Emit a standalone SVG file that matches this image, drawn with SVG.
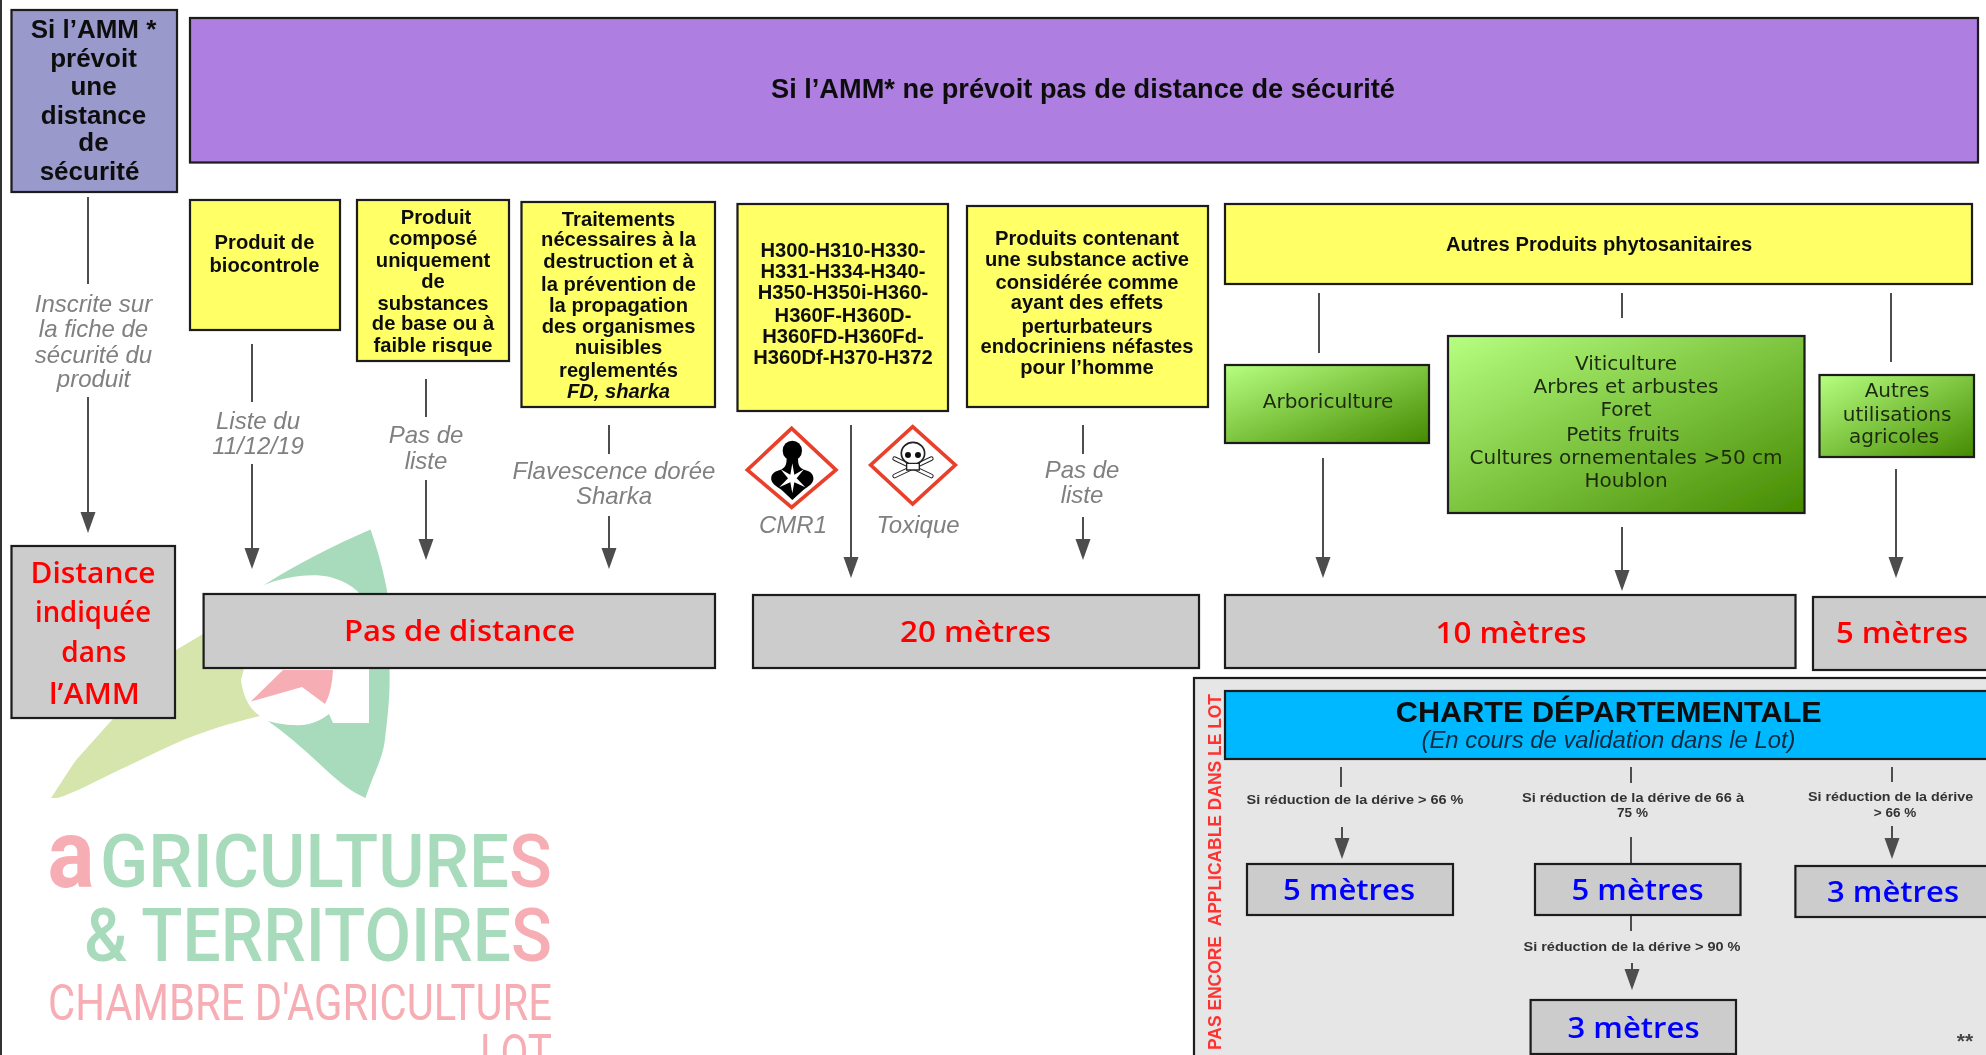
<svg xmlns="http://www.w3.org/2000/svg" width="1986" height="1055" viewBox="0 0 1986 1055">
<style>
text{font-family:"Liberation Sans",Arial,sans-serif;text-anchor:middle}
.box{stroke:#1a1a1a;stroke-width:2.2}
.y{fill:#ffff66}.g{fill:#cccccc}.gr{fill:url(#grad)}
.b{font-weight:700;font-size:20.2px;fill:#111}
.b2{font-weight:700;font-size:26px;fill:#111}
.i{font-style:italic;font-size:24px;fill:#808080}
.gt{font-family:"DejaVu Sans",sans-serif;font-size:20px;fill:#1c2a10}
.r{font-family:"Open Sans",sans-serif;font-weight:600;font-size:28px;fill:#ff0000}
.bl{font-family:"Open Sans",sans-serif;font-weight:600;font-size:28px;fill:#0000ff}
.s{font-size:13.5px;font-weight:700;fill:#333}
.c{fill:none;stroke:#4d4d4d;stroke-width:2}
.lg{fill:#a8dbbb;font-family:Roboto,sans-serif;font-weight:500}
.lp{fill:#f6adb4;font-family:Roboto,sans-serif}
.pk{fill:#f6adb4}
</style>
<defs>
<linearGradient id="grad" x1="0" y1="0" x2="1" y2="1"><stop offset="0" stop-color="#b6ff80"/><stop offset="1" stop-color="#458a00"/></linearGradient>
<marker id="a" markerUnits="userSpaceOnUse" viewBox="0 0 21 16" refX="13" refY="8" markerWidth="21" markerHeight="16" orient="auto"><path d="M0,0.500L21,8L0,15.500z" fill="#4d4d4d"/></marker>
<filter id="soft" x="0" y="0" width="100%" height="100%"><feGaussianBlur stdDeviation="0.55"/></filter>
</defs>
<rect width="1986" height="1055" fill="#fff"/>
<g filter="url(#soft)">
<rect x="0" y="0" width="2" height="1055" fill="#333"/>
<g id="logo">
<path fill="#d5e5ac" d="M51,798C60,785 70,768 77,759L111,721L176,650L203,634L262,600L241,680C243,695 248,708 260,716C235,722 205,730 172,745C150,755 130,765 115,772C90,784 70,795 57,798Z"/>
<path fill="#a8dbbb" d="M370.500,529.600C335,545 295,565 264,585C280,578 310,572 330,577C345,581 355,588 360,594L369,670L369,723L333,723L329,714C318,723 305,726 295,725C285,725 275,723 268,721C285,733 305,750 325,769C340,783 352,792 365.500,798C375,770 382,760 384.600,742C388,715 390,695 389.600,673.600C390,640 390,610 386.600,588C382,565 376,545 370.500,529.600Z"/>
<path fill="#f6adb4" d="M250.700,701.600L283,670L333,670C332,685 330,695 325,704L302,687Z"/>
<text class="lp" x="71" y="887" font-size="96" font-weight="700" textLength="47" lengthAdjust="spacingAndGlyphs">a</text>
<text class="lg" x="326" y="887" font-size="74" textLength="452" lengthAdjust="spacingAndGlyphs">GRICULTURE<tspan class="pk">S</tspan></text>
<text class="lg" x="318" y="961" font-size="74" textLength="468" lengthAdjust="spacingAndGlyphs">&amp;&#8201;TERRITOIRE<tspan class="pk">S</tspan></text>
<text class="lp" x="300" y="1020" font-size="50" font-weight="400" textLength="504" lengthAdjust="spacingAndGlyphs">CHAMBRE D'AGRICULTURE</text>
<text class="lp" x="516" y="1070" font-size="50" font-weight="400" textLength="72" lengthAdjust="spacingAndGlyphs">LOT</text>
</g>
<g id="n-charte-panel">
<rect class="box" x="1194" y="678" width="820" height="400" fill="#e6e6e6"/>
<text transform="translate(1221,1050) rotate(-90)" style="text-anchor:start;font-size:17.500px;font-weight:700;fill:#ff3333" textLength="356" lengthAdjust="spacingAndGlyphs">PAS ENCORE&#160;&#160;APPLICABLE DANS LE LOT</text>
<text x="1965" y="1048" style="font-size:21px;font-weight:700;fill:#444">**</text>
</g>
<g id="connectors">
<path class="c" d="M88,197V284M252,344V402M426,379V417M609,425V454M1083,425V454M1319,293V353M1622,293V318M1891,293V362M1341,767V787M1631,767V783M1631,837V864M1631,915V931M1892,767V782"/>
<path class="c" marker-end="url(#a)" d="M88,397V525"/>
<path class="c" marker-end="url(#a)" d="M252,464V561"/>
<path class="c" marker-end="url(#a)" d="M426,480V552"/>
<path class="c" marker-end="url(#a)" d="M609,516V561"/>
<path class="c" marker-end="url(#a)" d="M851,425V570"/>
<path class="c" marker-end="url(#a)" d="M1083,517V552"/>
<path class="c" marker-end="url(#a)" d="M1323,458V570"/>
<path class="c" marker-end="url(#a)" d="M1622,527V583"/>
<path class="c" marker-end="url(#a)" d="M1896,469V570"/>
<path class="c" marker-end="url(#a)" d="M1342,827V851"/>
<path class="c" marker-end="url(#a)" d="M1632,963V982"/>
<path class="c" marker-end="url(#a)" d="M1892,826V851"/>
</g>
<g id="n-amm-oui">
<rect class="box" x="11.500" y="10" width="165.500" height="182" fill="#9999cc"/>
<text class="b2" x="93.500" y="38">Si l’AMM *</text>
<text class="b2" x="93.500" y="67">prévoit</text>
<text class="b2" x="93.500" y="95">une</text>
<text class="b2" x="93.500" y="124">distance</text>
<text class="b2" x="93.500" y="151">de</text>
<text class="b2" x="89.500" y="180">sécurité</text>
</g>
<g id="n-amm-non">
<rect class="box" x="190" y="18" width="1788" height="144.500" fill="#ae7ee0"/>
<text class="b" style="font-size:27.200px" x="1083" y="98">Si l’AMM* ne prévoit pas de distance de sécurité</text>
</g>
<g id="n-biocontrole">
<rect class="box y" x="190" y="200" width="150" height="130"/>
<text class="b" x="264.500" y="249">Produit de</text>
<text class="b" x="264.500" y="272">biocontrole</text>
</g>
<g id="n-base">
<rect class="box y" x="357" y="200" width="152" height="161"/>
<text class="b" x="436" y="224">Produit</text>
<text class="b" x="433" y="245">composé</text>
<text class="b" x="433" y="267">uniquement</text>
<text class="b" x="433" y="288">de</text>
<text class="b" x="433" y="310">substances</text>
<text class="b" x="433" y="330">de base ou à</text>
<text class="b" x="433" y="352">faible risque</text>
</g>
<g id="n-traitements">
<rect class="box y" x="521.500" y="202" width="193.500" height="205"/>
<text class="b" x="618.500" y="226">Traitements</text>
<text class="b" x="618.500" y="246">nécessaires à la</text>
<text class="b" x="618.500" y="268">destruction et à</text>
<text class="b" x="618.500" y="291">la prévention de</text>
<text class="b" x="618.500" y="312">la propagation</text>
<text class="b" x="618.500" y="333">des organismes</text>
<text class="b" x="618.500" y="354">nuisibles</text>
<text class="b" x="618.500" y="377">reglementés</text>
<text class="b" x="618.500" y="398" font-style="italic">FD, sharka</text>
</g>
<g id="n-h">
<rect class="box y" x="737.500" y="204" width="210.500" height="207"/>
<text class="b" x="843" y="257">H300-H310-H330-</text>
<text class="b" x="843" y="278">H331-H334-H340-</text>
<text class="b" x="843" y="299">H350-H350i-H360-</text>
<text class="b" x="843" y="322">H360F-H360D-</text>
<text class="b" x="843" y="343">H360FD-H360Fd-</text>
<text class="b" x="843" y="364">H360Df-H370-H372</text>
</g>
<g id="n-perturbateurs">
<rect class="box y" x="967" y="206" width="241" height="201"/>
<text class="b" x="1087" y="245">Produits contenant</text>
<text class="b" x="1087" y="266">une substance active</text>
<text class="b" x="1087" y="289">considérée comme</text>
<text class="b" x="1087" y="309">ayant des effets</text>
<text class="b" x="1087" y="333">perturbateurs</text>
<text class="b" x="1087" y="353">endocriniens néfastes</text>
<text class="b" x="1087" y="374">pour l’homme</text>
</g>
<g id="n-autres">
<rect class="box y" x="1225" y="204" width="747" height="80"/>
<text class="b" x="1599" y="251">Autres Produits phytosanitaires</text>
</g>
<g id="n-arbo">
<rect class="box gr" x="1225" y="365" width="204" height="78"/>
<text class="gt" x="1328" y="408">Arboriculture</text>
</g>
<g id="n-viti">
<rect class="box gr" x="1448" y="336" width="356.500" height="177"/>
<text class="gt" x="1626" y="370">Viticulture</text>
<text class="gt" x="1626" y="393">Arbres et arbustes</text>
<text class="gt" x="1626" y="416">Foret</text>
<text class="gt" x="1623" y="441">Petits fruits</text>
<text class="gt" x="1626" y="464">Cultures ornementales &gt;50 cm</text>
<text class="gt" x="1626" y="487">Houblon</text>
</g>
<g id="n-autres-util">
<rect class="box gr" x="1819.500" y="375" width="154.500" height="82"/>
<text class="gt" x="1897" y="397">Autres</text>
<text class="gt" x="1897" y="421">utilisations</text>
<text class="gt" x="1894" y="443">agricoles</text>
</g>
<g id="labels">
<text class="i" x="93.500" y="311.600">Inscrite sur</text>
<text class="i" x="93.500" y="337">la fiche de</text>
<text class="i" x="93.500" y="362.500">sécurité du</text>
<text class="i" x="93.500" y="387">produit</text>
<text class="i" x="258" y="429">Liste du</text>
<text class="i" x="258" y="453.600">11/12/19</text>
<text class="i" x="426" y="443">Pas de</text>
<text class="i" x="426" y="469">liste</text>
<text class="i" x="614" y="479">Flavescence dorée</text>
<text class="i" x="614" y="504">Sharka</text>
<text class="i" x="793" y="533">CMR1</text>
<text class="i" x="918" y="533">Toxique</text>
<text class="i" x="1082" y="478">Pas de</text>
<text class="i" x="1082" y="503">liste</text>
</g>
<g id="pictogram-cmr" transform="translate(730,410) scale(.3333)">
<path d="M185,55L318,180L185,292L52,180Z" fill="#fff" stroke="#e8402a" stroke-width="11"/>
<ellipse cx="187" cy="122" rx="29" ry="30" fill="#000"/>
<path d="M170,145C170,165 165,175 150,180C130,185 122,195 124,210C128,225 145,232 155,240L187,270L220,240C230,232 246,225 250,210C252,195 244,185 225,180C208,175 204,165 204,145Z" fill="#000"/>
<path d="M187,160L193,194L222,178L200,205L226,232L193,217L187,250L181,217L148,232L174,205L152,178L181,194Z" fill="#fff"/>
</g>
<g id="pictogram-toxique" transform="translate(730,410) scale(.3333)">
<path d="M548,50L676,165L548,282L422,165Z" fill="#fff" stroke="#e8402a" stroke-width="11"/>
<path d="M494,146L604,198M604,146L494,198" stroke="#222" stroke-width="14" stroke-linecap="round" fill="none"/>
<path d="M494,146L604,198M604,146L494,198" stroke="#fff" stroke-width="8" stroke-linecap="round" fill="none"/>
<ellipse cx="549" cy="130" rx="35" ry="33" fill="#fff" stroke="#222" stroke-width="5"/>
<circle cx="534" cy="135" r="9" fill="#111"/><circle cx="564" cy="135" r="9" fill="#111"/>
<path d="M530,160H568V180H530Z" fill="#fff" stroke="#222" stroke-width="4"/>
</g>
<g id="n-distance-amm">
<rect class="box g" x="11.500" y="546" width="163.500" height="172"/>
<text class="r" x="93" y="583" textLength="125" lengthAdjust="spacingAndGlyphs">Distance</text>
<text class="r" x="93" y="622" textLength="116" lengthAdjust="spacingAndGlyphs">indiquée</text>
<text class="r" x="93.800" y="661.600" textLength="65" lengthAdjust="spacingAndGlyphs">dans</text>
<text class="r" x="94.500" y="704" textLength="91" lengthAdjust="spacingAndGlyphs">l’AMM</text>
</g>
<g id="n-pas-distance">
<rect class="box g" x="203.600" y="594" width="511.400" height="74"/>
<text class="r" x="459.500" y="641" textLength="231" lengthAdjust="spacingAndGlyphs">Pas de distance</text>
</g>
<g id="n-20m">
<rect class="box g" x="753" y="595" width="446" height="73"/>
<text class="r" x="975.500" y="641.600" textLength="151" lengthAdjust="spacingAndGlyphs">20 mètres</text>
</g>
<g id="n-10m">
<rect class="box g" x="1225" y="595" width="570.500" height="73"/>
<text class="r" x="1511" y="643" textLength="151" lengthAdjust="spacingAndGlyphs">10 mètres</text>
</g>
<g id="n-5m">
<rect class="box g" x="1813" y="597" width="200" height="73"/>
<text class="r" x="1902" y="643" textLength="132" lengthAdjust="spacingAndGlyphs">5 mètres</text>
</g>
<g id="n-charte-titre">
<rect class="box" x="1225" y="691" width="790" height="68" fill="#00b8ff"/>
<text x="1608.800" y="722" style="font-size:29.500px;font-weight:700;fill:#0a0a0a" textLength="426" lengthAdjust="spacingAndGlyphs">CHARTE DÉPARTEMENTALE</text>
<text x="1608.500" y="748" style="font-size:23px;font-style:italic;fill:#0a2a40" textLength="374" lengthAdjust="spacingAndGlyphs">(En cours de validation dans le Lot)</text>
</g>
<g id="charte-labels">
<text class="s" x="1355" y="804" textLength="217" lengthAdjust="spacingAndGlyphs">Si réduction de la dérive &gt; 66 %</text>
<text class="s" x="1633" y="802" textLength="222" lengthAdjust="spacingAndGlyphs">Si réduction de la dérive de 66 à</text>
<text class="s" x="1632.500" y="817">75 %</text>
<text class="s" x="1890.600" y="800.700" textLength="165" lengthAdjust="spacingAndGlyphs">Si réduction de la dérive</text>
<text class="s" x="1895" y="817">&gt; 66 %</text>
<text class="s" x="1632" y="951" textLength="217" lengthAdjust="spacingAndGlyphs">Si réduction de la dérive &gt; 90 %</text>
</g>
<g id="n-c5a">
<rect class="box g" x="1247" y="864" width="206" height="51"/>
<text class="bl" x="1349" y="900" textLength="132" lengthAdjust="spacingAndGlyphs">5 mètres</text>
</g>
<g id="n-c5b">
<rect class="box g" x="1535" y="864" width="205.500" height="51"/>
<text class="bl" x="1637.500" y="900" textLength="132" lengthAdjust="spacingAndGlyphs">5 mètres</text>
</g>
<g id="n-c3a">
<rect class="box g" x="1795.400" y="866" width="205" height="51"/>
<text class="bl" x="1893" y="902" textLength="132" lengthAdjust="spacingAndGlyphs">3 mètres</text>
</g>
<g id="n-c3b">
<rect class="box g" x="1530.600" y="1000" width="205.400" height="54"/>
<text class="bl" x="1633.500" y="1038" textLength="132" lengthAdjust="spacingAndGlyphs">3 mètres</text>
</g>
</g>
</svg>
